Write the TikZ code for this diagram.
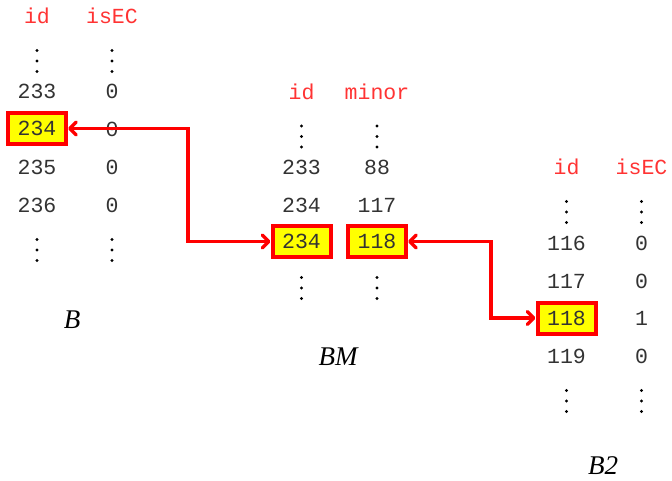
\documentclass[tikz,border=0pt]{standalone}
\usepackage{fontspec}
\setmainfont{Liberation Serif}
\newfontfamily\cellfont{Liberation Mono}
\usetikzlibrary{arrows.meta}
\definecolor{hdr}{HTML}{FF3333}
\definecolor{cell}{HTML}{333333}
\definecolor{hl}{HTML}{FFFF00}
\begin{document}
\begin{tikzpicture}[x=1pt,y=-1pt,
  hd/.style={text=hdr, font=\cellfont\fontsize{21.5}{24}\selectfont, inner sep=0},
  val/.style={text=cell, font=\cellfont\fontsize{21.5}{24}\selectfont, inner sep=0},
  hi/.style={val, draw=red, fill=hl, line width=4pt, minimum width=58pt, minimum height=31pt},
  tbl/.style={font=\fontsize{27}{30}\selectfont\itshape, inner sep=0},
  arr/.style={red, line width=3.5pt, line join=miter,
    {Straight Barb[length=6.5pt,width=13pt,round]}-{Straight Barb[length=6.5pt,width=13pt,round]}},
  vdots/.pic={\fill[black] (0,-10.5) circle (1.6) (0,0) circle (1.6) (0,10.5) circle (1.6);}]
\useasboundingbox (0,0) rectangle (672,480);
% ---- table B
\node[hd] (bh1) at (37,16) {id};
\node[hd] (bh2) at (112,16) {isEC};
\pic at (37,61) {vdots};
\pic at (112,61) {vdots};
\node[val] (b233) at (37,91) {233};
\node[val] (b233e) at (112,91) {0};
\node[hi] (b234) at (37,128.5) {234};
\node[val] (b234e) at (112,129) {0};
\node[val] (b235) at (37,167) {235};
\node[val] (b235e) at (112,167) {0};
\node[val] (b236) at (37,205) {236};
\node[val] (b236e) at (112,205) {0};
\pic at (37,250) {vdots};
\pic at (112,250) {vdots};
\node[tbl] (lb) at (72,320) {B};
% ---- table BM
\node[hd] (mh1) at (301.5,92) {id};
\node[hd] (mh2) at (377,92) {minor};
\pic at (301.5,136.5) {vdots};
\pic at (377,136.5) {vdots};
\node[val] (m233) at (301.5,167) {233};
\node[val] (m233m) at (377,167) {88};
\node[val] (m234) at (301.5,205) {234};
\node[val] (m234m) at (377,205) {117};
\node[hi] (m234b) at (301.5,241.5) {234};
\node[hi] (m118b) at (377,241.5) {118};
\pic at (301.5,288) {vdots};
\pic at (377,288) {vdots};
\node[tbl] (lbm) at (338,357) {BM};
% ---- table B2
\node[hd] (ch1) at (566.5,167) {id};
\node[hd] (ch2) at (641.5,167) {isEC};
\pic at (566.5,212) {vdots};
\pic at (641.5,212) {vdots};
\node[val] (c116) at (566.5,243) {116};
\node[val] (c116e) at (641.5,243) {0};
\node[val] (c117) at (566.5,281) {117};
\node[val] (c117e) at (641.5,281) {0};
\node[hi] (c118) at (566.5,318) {118};
\node[val] (c118e) at (641.5,318) {1};
\node[val] (c119) at (566.5,356) {119};
\node[val] (c119e) at (641.5,356) {0};
\pic at (566.5,401) {vdots};
\pic at (641.5,401) {vdots};
\node[tbl] (lb2) at (603,466) {B2};
% ---- connectors
\draw[arr] (b234.east) -- ++(120,0) |- (m234b.west);
\draw[arr] (m118b.east) -- ++(83,0) |- (c118.west);
\end{tikzpicture}
\end{document}
